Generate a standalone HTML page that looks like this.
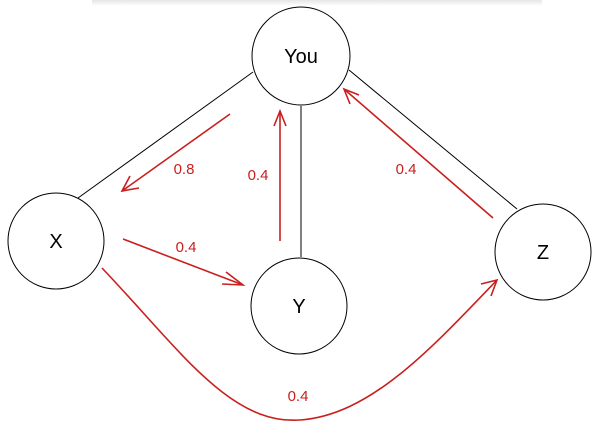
<!DOCTYPE html>
<html><head><meta charset="utf-8"><style>
html,body{margin:0;padding:0;background:#fff;}
svg{display:block;}
</style></head><body>
<svg width="600" height="426" viewBox="0 0 600 426" xmlns="http://www.w3.org/2000/svg">
<defs>
<linearGradient id="g" x1="0" y1="0" x2="0" y2="1">
<stop offset="0" stop-color="#e6e6e6"/><stop offset="1" stop-color="#fff"/>
</linearGradient>
</defs>
<rect x="92" y="0" width="450" height="6" fill="url(#g)"/>
<g stroke="#000" stroke-width="1" fill="none">
<line x1="253" y1="72" x2="78" y2="198"/>
<line x1="301" y1="106" x2="301" y2="257"/>
<line x1="349" y1="70" x2="517" y2="209"/>
<circle cx="301" cy="56" r="49" fill="#fff"/>
<circle cx="56" cy="241" r="48" fill="#fff"/>
<circle cx="299" cy="306" r="48" fill="#fff"/>
<circle cx="543" cy="252" r="48" fill="#fff"/>
</g>
<g font-family="Liberation Sans, sans-serif" font-size="20" text-anchor="middle" fill="#000">
<text x="301" y="63">You</text>
<text x="56" y="248">X</text>
<text x="299" y="313">Y</text>
<text x="543" y="259">Z</text>
</g>
<g stroke="#c8201e" stroke-width="1.6" fill="none">
<line x1="230" y1="114" x2="122" y2="191"/>
<polyline points="130,176 122,191 139,188"/>
<line x1="280" y1="241" x2="280" y2="111"/>
<polyline points="274,126 280,111 286,126"/>
<line x1="123" y1="239" x2="243" y2="285"/>
<polyline points="226,272 243,285 222,284"/>
<line x1="493" y1="218" x2="344" y2="89"/>
<polyline points="350,104 344,89 359,95"/>
<path d="M102,268 C180,350 230,425 300,420 C370,415 430,350 497,280"/>
<polyline points="481,284 497,280 491,296"/>
</g>
<g font-family="Liberation Sans, sans-serif" font-size="15" text-anchor="middle" fill="#c8201e">
<text x="184" y="174">0.8</text>
<text x="258" y="180">0.4</text>
<text x="186" y="252">0.4</text>
<text x="406" y="174">0.4</text>
<text x="298" y="401">0.4</text>
</g>
</svg>
</body></html>
